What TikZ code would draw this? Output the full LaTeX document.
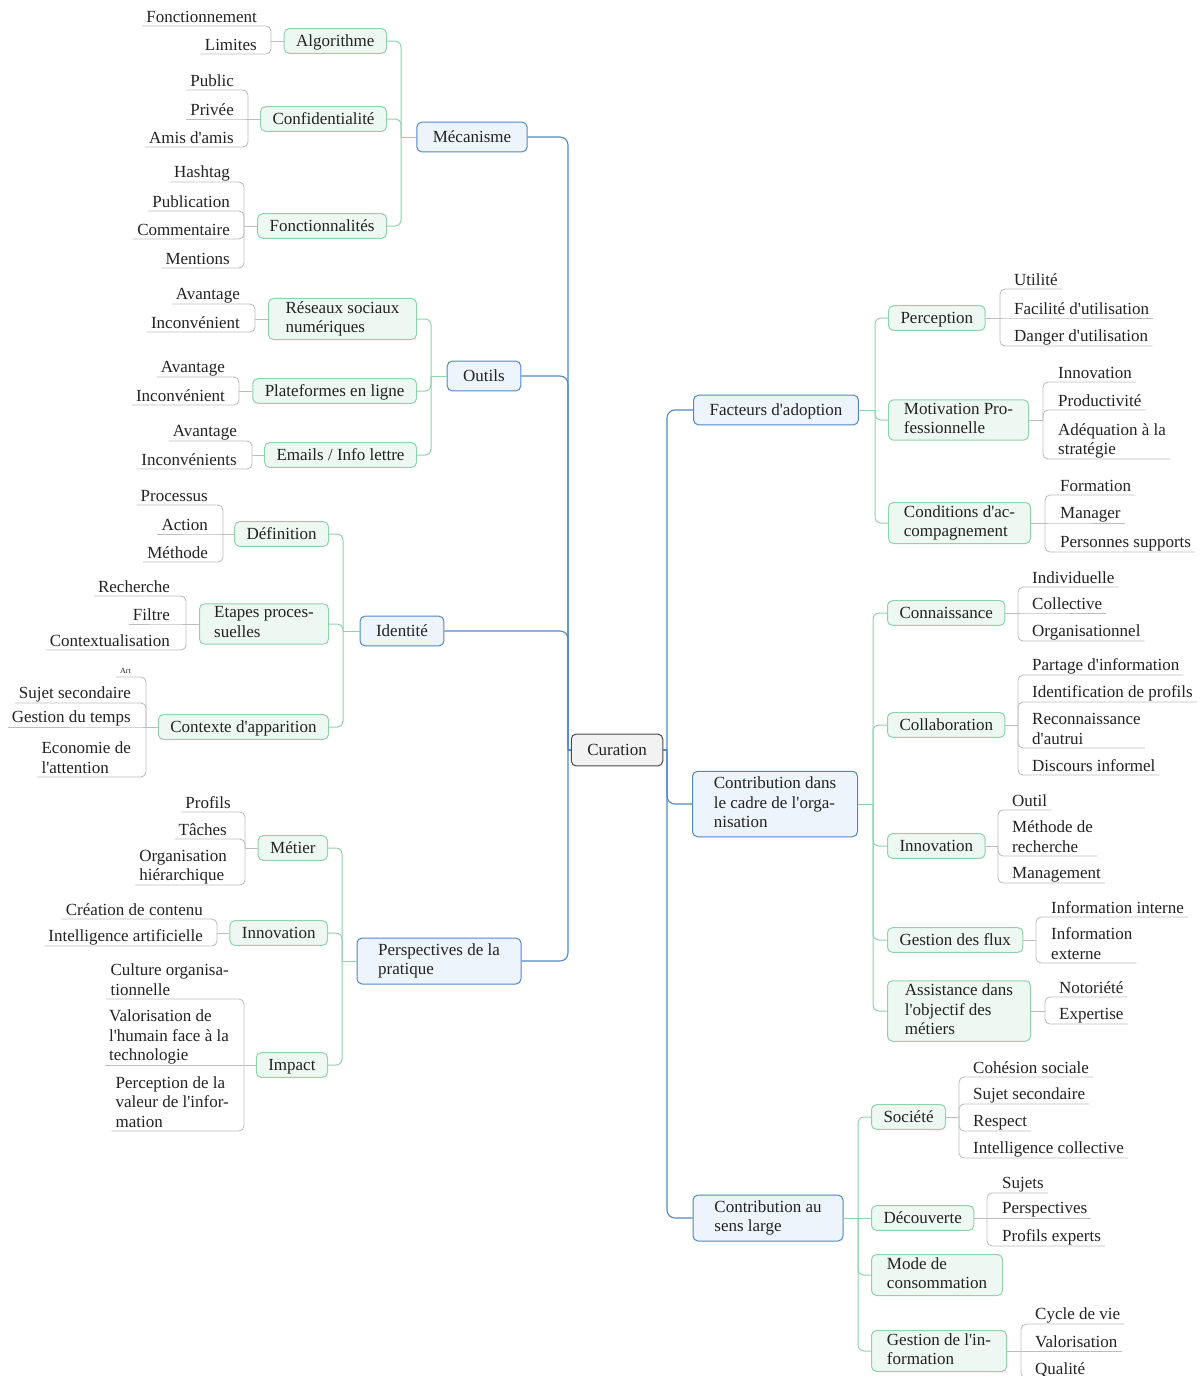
\documentclass[tikz,border=0pt]{standalone}
\usepackage{fontspec}
\setmainfont{Liberation Serif}[Ligatures=TeXOff]
\usetikzlibrary{positioning}
\definecolor{bluedraw}{HTML}{4F88C6}
\definecolor{bluefill}{HTML}{EEF4FB}
\definecolor{greendraw}{HTML}{8FD3AA}
\definecolor{greenfill}{HTML}{EEF8F2}
\definecolor{rootdraw}{HTML}{4A4A4A}
\definecolor{rootfill}{HTML}{F2F2F2}
\definecolor{leafgray}{HTML}{BDBDBD}
\definecolor{textdark}{HTML}{222222}
\tikzstyle{boxtext} = [execute at begin node={\rule{0pt}{15pt}}, execute at end node={\rule[-3.7pt]{0pt}{0pt}}]
\tikzstyle{root} = [rectangle, rounded corners=5pt, draw=rootdraw, fill=rootfill, line width=1pt, inner xsep=16pt, inner ysep=6.6pt, boxtext]
\tikzstyle{topic} = [rectangle, rounded corners=5pt, draw=bluedraw, fill=bluefill, line width=1pt, inner xsep=16pt, inner ysep=5.5pt, align=left, boxtext]
\tikzstyle{subtopic} = [rectangle, rounded corners=5pt, draw=greendraw, fill=greenfill, line width=1pt, inner xsep=12pt, inner ysep=3pt, minimum height=24pt, align=left, boxtext]
\tikzstyle{leaf} = [inner xsep=4pt, inner ysep=0.5pt, align=left, execute at end node={\rule[-3pt]{0pt}{0pt}}]
\tikzstyle{leaf-left} = [leaf, anchor=south east]
\tikzstyle{leaf-right} = [leaf, anchor=south west]
\tikzstyle{bluelink} = [draw=bluedraw, line width=1.1pt, rounded corners=8pt]
\tikzstyle{greenlink} = [draw=greendraw, line width=1pt, rounded corners=6pt]
\tikzstyle{leaflink} = [draw=leafgray, line width=0.9pt, rounded corners=5pt]

\begin{document}
\begin{tikzpicture}[x=1pt, y=-1pt, font=\fontsize{17}{19.5}\selectfont, text=textdark]
    \useasboundingbox (0,0) rectangle (1203,1376);

    \node (curation) [root] at (617,750) {Curation};

    \node (mecanisme) [topic] at (472,137) {Mécanisme};
    \node (outils) [topic] at (484,376) {Outils};
    \node (identite) [topic] at (402,631) {Identité};
    \node (perspectives-pratique) [topic, minimum width=164pt] at (439,961) {Perspectives de la\\pratique};
    \node (facteurs-adoption) [topic] at (776,410) {Facteurs d'adoption};
    \node (contribution-organisation) [topic, minimum width=165pt] at (775,804) {Contribution dans\\le cadre de l'orga-\\nisation};
    \node (contribution-sens-large) [topic, minimum width=150pt] at (768,1218) {Contribution au\\sens large};

    \node (algorithme) [subtopic, anchor=east] at (387,41) {Algorithme};
    \node (confidentialite) [subtopic, anchor=east] at (387,119) {Confidentialité};
    \node (fonctionnalites) [subtopic, anchor=east] at (387,226) {Fonctionnalités};
    \node (reseaux-sociaux) [subtopic, anchor=east, minimum width=148pt] at (417,319) {Réseaux sociaux\\numériques};
    \node (plateformes) [subtopic, anchor=east] at (417,391) {Plateformes en ligne};
    \node (emails) [subtopic, anchor=east] at (417,455) {Emails / Info lettre};
    \node (definition) [subtopic, anchor=east] at (329,534) {Définition};
    \node (etapes) [subtopic, anchor=east, minimum width=129pt] at (329,624) {Etapes proces-\\suelles};
    \node (contexte) [subtopic, anchor=east] at (329,727) {Contexte d'apparition};
    \node (metier) [subtopic, anchor=east] at (328,848) {Métier};
    \node (innovation-pratique) [subtopic, anchor=east] at (328,933) {Innovation};
    \node (impact) [subtopic, anchor=east] at (328,1065) {Impact};

    \node (perception) [subtopic, anchor=west] at (888,318) {Perception};
    \node (motivation) [subtopic, anchor=west, minimum width=140pt] at (888,420) {Motivation Pro-\\fessionnelle};
    \node (conditions) [subtopic, anchor=west, minimum width=142pt] at (888,523) {Conditions d'ac-\\compagnement};
    \node (connaissance) [subtopic, anchor=west] at (887,613) {Connaissance};
    \node (collaboration) [subtopic, anchor=west] at (887,725) {Collaboration};
    \node (innovation-organisation) [subtopic, anchor=west] at (887,846) {Innovation};
    \node (gestion-flux) [subtopic, anchor=west] at (887,940) {Gestion des flux};
    \node (assistance) [subtopic, anchor=west, minimum width=143pt] at (887,1011) {Assistance dans\\l'objectif des\\métiers};
    \node (societe) [subtopic, anchor=west] at (871,1117) {Société};
    \node (decouverte) [subtopic, anchor=west] at (871,1218) {Découverte};
    \node (mode-consommation) [subtopic, anchor=west, minimum width=131pt] at (871,1275) {Mode de\\consommation};
    \node (gestion-information) [subtopic, anchor=west, minimum width=135pt] at (871,1351) {Gestion de l'in-\\formation};

    \node (fonctionnement) [leaf-left] at (261,26) {Fonctionnement};
    \node (limites) [leaf-left] at (261,54) {Limites};
    \node (public) [leaf-left] at (238,90) {Public};
    \node (privee) [leaf-left] at (238,119) {Privée};
    \node (amis) [leaf-left] at (238,147) {Amis d'amis};
    \node (hashtag) [leaf-left] at (234,182) {Hashtag};
    \node (publication) [leaf-left] at (234,211) {Publication};
    \node (commentaire) [leaf-left] at (234,239) {Commentaire};
    \node (mentions) [leaf-left] at (234,268) {Mentions};
    \node (avantage-reseaux) [leaf-left] at (244,304) {Avantage};
    \node (inconvenient-reseaux) [leaf-left] at (244,332) {Inconvénient};
    \node (avantage-plateformes) [leaf-left] at (229,377) {Avantage};
    \node (inconvenient-plateformes) [leaf-left] at (229,405) {Inconvénient};
    \node (avantage-emails) [leaf-left] at (241,441) {Avantage};
    \node (inconvenients-emails) [leaf-left] at (241,469) {Inconvénients};
    \node (processus) [leaf-left] at (212,505) {Processus};
    \node (action) [leaf-left] at (212,534) {Action};
    \node (methode) [leaf-left] at (212,562) {Méthode};
    \node (recherche) [leaf-left] at (174,596) {Recherche};
    \node (filtre) [leaf-left] at (174,624) {Filtre};
    \node (contextualisation) [leaf-left] at (174,650) {Contextualisation};
    \node (art) [leaf-left, font=\fontsize{8}{9}\selectfont, execute at end node={}] at (135,677) {Art};
    \node (sujet-secondaire) [leaf-left] at (135,703) {Sujet secondaire};
    \node (gestion-temps) [leaf-left] at (135,727) {Gestion du temps};
    \node (economie) [leaf-left] at (135,777) {Economie de\\l'attention};
    \node (profils) [leaf-left] at (235,812) {Profils};
    \node (taches) [leaf-left] at (231,839) {Tâches};
    \node (organisation) [leaf-left] at (231,885) {Organisation\\hiérarchique};
    \node (creation) [leaf-left] at (207,919) {Création de contenu};
    \node (intelligence-artificielle) [leaf-left] at (207,946) {Intelligence artificielle};
    \node (culture) [leaf-left] at (233,999) {Culture organisa-\\tionnelle};
    \node (valorisation-humain) [leaf-left] at (233,1065) {Valorisation de\\l'humain face à la\\technologie};
    \node (perception-valeur) [leaf-left] at (233,1131) {Perception de la\\valeur de l'infor-\\mation};

    \node (utilite) [leaf-right] at (1010,289) {Utilité};
    \node (facilite) [leaf-right] at (1010,318) {Facilité d'utilisation};
    \node (danger) [leaf-right] at (1010,346) {Danger d'utilisation};
    \node (innovation-motivation) [leaf-right] at (1054,382) {Innovation};
    \node (productivite) [leaf-right] at (1054,410) {Productivité};
    \node (adequation) [leaf-right] at (1054,459) {Adéquation à la\\stratégie};
    \node (formation) [leaf-right] at (1056,495) {Formation};
    \node (manager) [leaf-right] at (1056,523) {Manager};
    \node (personnes-supports) [leaf-right] at (1056,552) {Personnes supports};
    \node (individuelle) [leaf-right] at (1028,587) {Individuelle};
    \node (collective) [leaf-right] at (1028,613) {Collective};
    \node (organisationnel) [leaf-right] at (1028,641) {Organisationnel};
    \node (partage) [leaf-right] at (1028,675) {Partage d'information};
    \node (identification) [leaf-right] at (1028,702) {Identification de profils};
    \node (reconnaissance) [leaf-right] at (1028,748) {Reconnaissance\\d'autrui};
    \node (discours) [leaf-right] at (1028,775) {Discours informel};
    \node (outil) [leaf-right] at (1008,810) {Outil};
    \node (methode-recherche) [leaf-right] at (1008,856) {Méthode de\\recherche};
    \node (management) [leaf-right] at (1008,883) {Management};
    \node (information-interne) [leaf-right] at (1047,917) {Information interne};
    \node (information-externe) [leaf-right] at (1047,963) {Information\\externe};
    \node (notoriete) [leaf-right] at (1055,997) {Notoriété};
    \node (expertise) [leaf-right] at (1055,1024) {Expertise};
    \node (cohesion) [leaf-right] at (969,1077) {Cohésion sociale};
    \node (sujet-secondaire-societe) [leaf-right] at (969,1104) {Sujet secondaire};
    \node (respect) [leaf-right] at (969,1131) {Respect};
    \node (intelligence-collective) [leaf-right] at (969,1158) {Intelligence collective};
    \node (sujets) [leaf-right] at (998,1193) {Sujets};
    \node (perspectives) [leaf-right] at (998,1218) {Perspectives};
    \node (profils-experts) [leaf-right] at (998,1246) {Profils experts};
    \node (cycle-vie) [leaf-right] at (1031,1324) {Cycle de vie};
    \node (valorisation) [leaf-right] at (1031,1351) {Valorisation};
    \node (qualite) [leaf-right] at (1031,1378) {Qualité};

    \coordinate (curation-left) at (568,750);
    \coordinate (curation-right) at (667,750);
    \coordinate (mecanisme-fork) at (401,137);
    \coordinate (outils-fork) at (431,376);
    \coordinate (identite-fork) at (343,631);
    \coordinate (perspectives-fork) at (342,961);
    \coordinate (facteurs-fork) at (875,410);
    \coordinate (organisation-fork) at (873,804);
    \coordinate (sens-large-fork) at (858,1218);
    \coordinate (algorithme-fork) at (271,41);
    \coordinate (confidentialite-fork) at (248,119);
    \coordinate (fonctionnalites-fork) at (244,226);
    \coordinate (reseaux-fork) at (255,319);
    \coordinate (plateformes-fork) at (239,391);
    \coordinate (emails-fork) at (252,455);
    \coordinate (definition-fork) at (223,534);
    \coordinate (etapes-fork) at (186,624);
    \coordinate (contexte-fork) at (146,727);
    \coordinate (metier-fork) at (245,848);
    \coordinate (innovation-pratique-fork) at (217,933);
    \coordinate (impact-fork) at (244,1065);
    \coordinate (perception-fork) at (1000,318);
    \coordinate (motivation-fork) at (1043,420);
    \coordinate (conditions-fork) at (1045,523);
    \coordinate (connaissance-fork) at (1018,613);
    \coordinate (collaboration-fork) at (1018,725);
    \coordinate (innovation-organisation-fork) at (998,846);
    \coordinate (gestion-flux-fork) at (1036,940);
    \coordinate (assistance-fork) at (1045,1011);
    \coordinate (societe-fork) at (959,1117);
    \coordinate (decouverte-fork) at (987,1218);
    \coordinate (gestion-information-fork) at (1021,1351);

    \draw [bluelink] (curation.west) -- (curation-left);
    \draw [bluelink] (curation-left) |- (mecanisme.east);
    \draw [bluelink] (curation-left) |- (outils.east);
    \draw [bluelink] (curation-left) |- (identite.east);
    \draw [bluelink] (curation-left) |- (perspectives-pratique.east);
    \draw [bluelink] (curation.east) -- (curation-right);
    \draw [bluelink] (curation-right) |- (facteurs-adoption.west);
    \draw [bluelink] (curation-right) |- (contribution-organisation.west);
    \draw [bluelink] (curation-right) |- (contribution-sens-large.west);

    \draw [greenlink] (mecanisme.west) -- (mecanisme-fork);
    \draw [greenlink] (mecanisme-fork) |- (algorithme.east);
    \draw [greenlink] (mecanisme-fork) |- (confidentialite.east);
    \draw [greenlink] (mecanisme-fork) |- (fonctionnalites.east);
    \draw [greenlink] (outils.west) -- (outils-fork);
    \draw [greenlink] (outils-fork) |- (reseaux-sociaux.east);
    \draw [greenlink] (outils-fork) |- (plateformes.east);
    \draw [greenlink] (outils-fork) |- (emails.east);
    \draw [greenlink] (identite.west) -- (identite-fork);
    \draw [greenlink] (identite-fork) |- (definition.east);
    \draw [greenlink] (identite-fork) |- (etapes.east);
    \draw [greenlink] (identite-fork) |- (contexte.east);
    \draw [greenlink] (perspectives-pratique.west) -- (perspectives-fork);
    \draw [greenlink] (perspectives-fork) |- (metier.east);
    \draw [greenlink] (perspectives-fork) |- (innovation-pratique.east);
    \draw [greenlink] (perspectives-fork) |- (impact.east);
    \draw [greenlink] (facteurs-adoption.east) -- (facteurs-fork);
    \draw [greenlink] (facteurs-fork) |- (perception.west);
    \draw [greenlink] (facteurs-fork) |- (motivation.west);
    \draw [greenlink] (facteurs-fork) |- (conditions.west);
    \draw [greenlink] (contribution-organisation.east) -- (organisation-fork);
    \draw [greenlink] (organisation-fork) |- (connaissance.west);
    \draw [greenlink] (organisation-fork) |- (collaboration.west);
    \draw [greenlink] (organisation-fork) |- (innovation-organisation.west);
    \draw [greenlink] (organisation-fork) |- (gestion-flux.west);
    \draw [greenlink] (organisation-fork) |- (assistance.west);
    \draw [greenlink] (contribution-sens-large.east) -- (sens-large-fork);
    \draw [greenlink] (sens-large-fork) |- (societe.west);
    \draw [greenlink] (sens-large-fork) -- (decouverte.west);
    \draw [greenlink] (sens-large-fork) |- (mode-consommation.west);
    \draw [greenlink] (sens-large-fork) |- (gestion-information.west);

    \draw [leaflink] (algorithme.west) -- (algorithme-fork);
    \draw [leaflink] (algorithme-fork) |- (fonctionnement.south east) -- (fonctionnement.south west);
    \draw [leaflink] (algorithme-fork) |- (limites.south east) -- (limites.south west);
    \draw [leaflink] (confidentialite.west) -- (confidentialite-fork);
    \draw [leaflink] (confidentialite-fork) |- (public.south east) -- (public.south west);
    \draw [leaflink] (confidentialite-fork) -- (privee.south east) -- (privee.south west);
    \draw [leaflink] (confidentialite-fork) |- (amis.south east) -- (amis.south west);
    \draw [leaflink] (fonctionnalites.west) -- (fonctionnalites-fork);
    \draw [leaflink] (fonctionnalites-fork) |- (hashtag.south east) -- (hashtag.south west);
    \draw [leaflink] (fonctionnalites-fork) |- (publication.south east) -- (publication.south west);
    \draw [leaflink] (fonctionnalites-fork) |- (commentaire.south east) -- (commentaire.south west);
    \draw [leaflink] (fonctionnalites-fork) |- (mentions.south east) -- (mentions.south west);
    \draw [leaflink] (reseaux-sociaux.west) -- (reseaux-fork);
    \draw [leaflink] (reseaux-fork) |- (avantage-reseaux.south east) -- (avantage-reseaux.south west);
    \draw [leaflink] (reseaux-fork) |- (inconvenient-reseaux.south east) -- (inconvenient-reseaux.south west);
    \draw [leaflink] (plateformes.west) -- (plateformes-fork);
    \draw [leaflink] (plateformes-fork) |- (avantage-plateformes.south east) -- (avantage-plateformes.south west);
    \draw [leaflink] (plateformes-fork) |- (inconvenient-plateformes.south east) -- (inconvenient-plateformes.south west);
    \draw [leaflink] (emails.west) -- (emails-fork);
    \draw [leaflink] (emails-fork) |- (avantage-emails.south east) -- (avantage-emails.south west);
    \draw [leaflink] (emails-fork) |- (inconvenients-emails.south east) -- (inconvenients-emails.south west);
    \draw [leaflink] (definition.west) -- (definition-fork);
    \draw [leaflink] (definition-fork) |- (processus.south east) -- (processus.south west);
    \draw [leaflink] (definition-fork) -- (action.south east) -- (action.south west);
    \draw [leaflink] (definition-fork) |- (methode.south east) -- (methode.south west);
    \draw [leaflink] (etapes.west) -- (etapes-fork);
    \draw [leaflink] (etapes-fork) |- (recherche.south east) -- (recherche.south west);
    \draw [leaflink] (etapes-fork) -- (filtre.south east) -- (filtre.south west);
    \draw [leaflink] (etapes-fork) |- (contextualisation.south east) -- (contextualisation.south west);
    \draw [leaflink] (contexte.west) -- (contexte-fork);
    \draw [leaflink] (contexte-fork) |- (art.south east) -- (art.south west);
    \draw [leaflink] (contexte-fork) |- (sujet-secondaire.south east) -- (sujet-secondaire.south west);
    \draw [leaflink] (contexte-fork) -- (gestion-temps.south east) -- (gestion-temps.south west);
    \draw [leaflink] (contexte-fork) |- (economie.south east) -- (economie.south west);
    \draw [leaflink] (metier.west) -- (metier-fork);
    \draw [leaflink] (metier-fork) |- (profils.south east) -- (profils.south west);
    \draw [leaflink] (metier-fork) |- (taches.south east) -- (taches.south west);
    \draw [leaflink] (metier-fork) |- (organisation.south east) -- (organisation.south west);
    \draw [leaflink] (innovation-pratique.west) -- (innovation-pratique-fork);
    \draw [leaflink] (innovation-pratique-fork) |- (creation.south east) -- (creation.south west);
    \draw [leaflink] (innovation-pratique-fork) |- (intelligence-artificielle.south east) -- (intelligence-artificielle.south west);
    \draw [leaflink] (impact.west) -- (impact-fork);
    \draw [leaflink] (impact-fork) |- (culture.south east) -- (culture.south west);
    \draw [leaflink] (impact-fork) -- (valorisation-humain.south east) -- (valorisation-humain.south west);
    \draw [leaflink] (impact-fork) |- (perception-valeur.south east) -- (perception-valeur.south west);

    \draw [leaflink] (perception.east) -- (perception-fork);
    \draw [leaflink] (perception-fork) |- (utilite.south west) -- (utilite.south east);
    \draw [leaflink] (perception-fork) -- (facilite.south west) -- (facilite.south east);
    \draw [leaflink] (perception-fork) |- (danger.south west) -- (danger.south east);
    \draw [leaflink] (motivation.east) -- (motivation-fork);
    \draw [leaflink] (motivation-fork) |- (innovation-motivation.south west) -- (innovation-motivation.south east);
    \draw [leaflink] (motivation-fork) |- (productivite.south west) -- (productivite.south east);
    \draw [leaflink] (motivation-fork) |- (adequation.south west) -- (adequation.south east);
    \draw [leaflink] (conditions.east) -- (conditions-fork);
    \draw [leaflink] (conditions-fork) |- (formation.south west) -- (formation.south east);
    \draw [leaflink] (conditions-fork) -- (manager.south west) -- (manager.south east);
    \draw [leaflink] (conditions-fork) |- (personnes-supports.south west) -- (personnes-supports.south east);
    \draw [leaflink] (connaissance.east) -- (connaissance-fork);
    \draw [leaflink] (connaissance-fork) |- (individuelle.south west) -- (individuelle.south east);
    \draw [leaflink] (connaissance-fork) -- (collective.south west) -- (collective.south east);
    \draw [leaflink] (connaissance-fork) |- (organisationnel.south west) -- (organisationnel.south east);
    \draw [leaflink] (collaboration.east) -- (collaboration-fork);
    \draw [leaflink] (collaboration-fork) |- (partage.south west) -- (partage.south east);
    \draw [leaflink] (collaboration-fork) |- (identification.south west) -- (identification.south east);
    \draw [leaflink] (collaboration-fork) |- (reconnaissance.south west) -- (reconnaissance.south east);
    \draw [leaflink] (collaboration-fork) |- (discours.south west) -- (discours.south east);
    \draw [leaflink] (innovation-organisation.east) -- (innovation-organisation-fork);
    \draw [leaflink] (innovation-organisation-fork) |- (outil.south west) -- (outil.south east);
    \draw [leaflink] (innovation-organisation-fork) |- (methode-recherche.south west) -- (methode-recherche.south east);
    \draw [leaflink] (innovation-organisation-fork) |- (management.south west) -- (management.south east);
    \draw [leaflink] (gestion-flux.east) -- (gestion-flux-fork);
    \draw [leaflink] (gestion-flux-fork) |- (information-interne.south west) -- (information-interne.south east);
    \draw [leaflink] (gestion-flux-fork) |- (information-externe.south west) -- (information-externe.south east);
    \draw [leaflink] (assistance.east) -- (assistance-fork);
    \draw [leaflink] (assistance-fork) |- (notoriete.south west) -- (notoriete.south east);
    \draw [leaflink] (assistance-fork) |- (expertise.south west) -- (expertise.south east);
    \draw [leaflink] (societe.east) -- (societe-fork);
    \draw [leaflink] (societe-fork) |- (cohesion.south west) -- (cohesion.south east);
    \draw [leaflink] (societe-fork) |- (sujet-secondaire-societe.south west) -- (sujet-secondaire-societe.south east);
    \draw [leaflink] (societe-fork) |- (respect.south west) -- (respect.south east);
    \draw [leaflink] (societe-fork) |- (intelligence-collective.south west) -- (intelligence-collective.south east);
    \draw [leaflink] (decouverte.east) -- (decouverte-fork);
    \draw [leaflink] (decouverte-fork) |- (sujets.south west) -- (sujets.south east);
    \draw [leaflink] (decouverte-fork) -- (perspectives.south west) -- (perspectives.south east);
    \draw [leaflink] (decouverte-fork) |- (profils-experts.south west) -- (profils-experts.south east);
    \draw [leaflink] (gestion-information.east) -- (gestion-information-fork);
    \draw [leaflink] (gestion-information-fork) |- (cycle-vie.south west) -- (cycle-vie.south east);
    \draw [leaflink] (gestion-information-fork) -- (valorisation.south west) -- (valorisation.south east);
    \draw [leaflink] (gestion-information-fork) |- (qualite.south west) -- (qualite.south east);
\end{tikzpicture}
\end{document}
